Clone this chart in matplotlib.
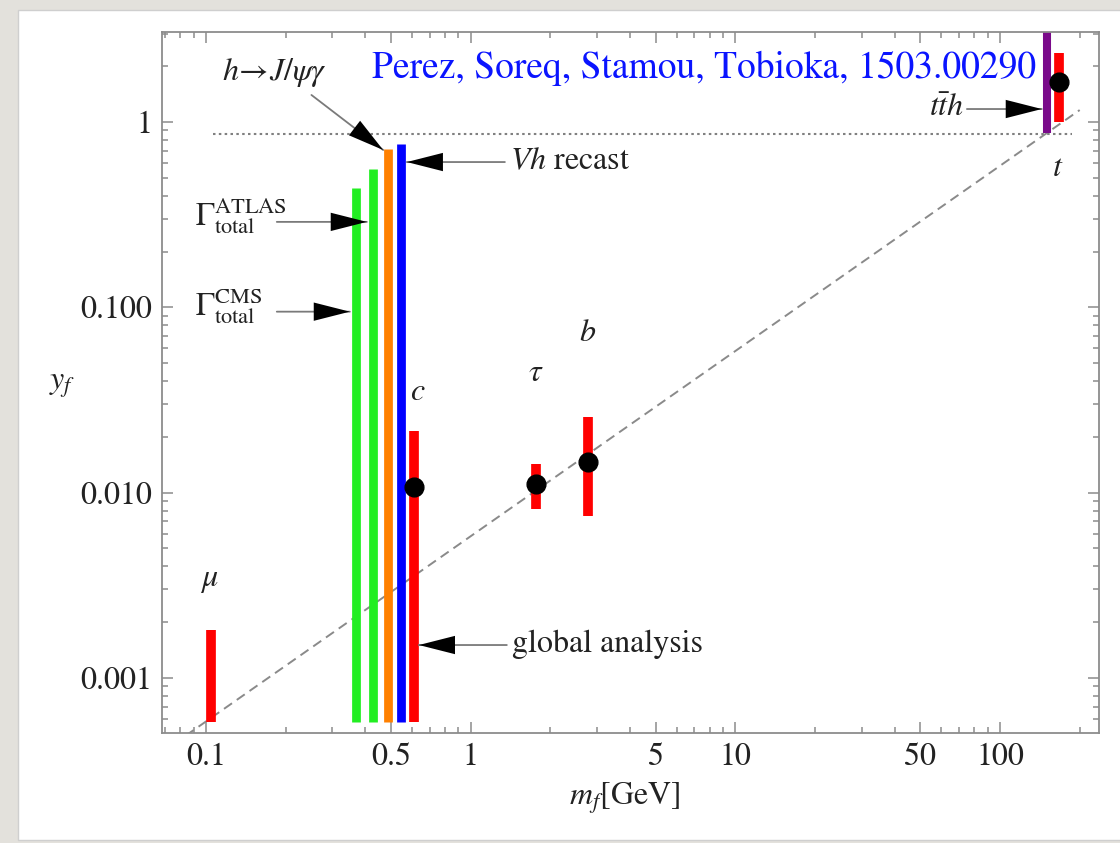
import matplotlib
matplotlib.use("Agg")
import matplotlib.pyplot as plt
from matplotlib.patches import Rectangle
from matplotlib.ticker import FixedLocator, FixedFormatter, NullFormatter

plt.rcParams["font.family"] = ["STIXGeneral", "DejaVu Serif"]
plt.rcParams["mathtext.fontset"] = "stix"

# --- data (masses in GeV, Yukawa couplings y_f) ---
# best-fit points
point_names = ["c", "tau", "b", "t"]
point_m = [0.611, 1.77, 2.78, 167.5]
point_y = [0.0107, 0.0111, 0.0147, 1.65]

# allowed ranges (red bars)
range_names = ["mu", "c", "tau", "b", "t"]
range_m = [0.105, 0.611, 1.77, 2.78, 167.5]
range_lo = [0.00058, 0.00058, 0.00816, 0.0075, 1.0]
range_hi = [0.00181, 0.0216, 0.01426, 0.0257, 2.35]

# upper bounds on the charm Yukawa
bound_names = ["Gamma CMS", "Gamma ATLAS", "h->J/psi gamma", "Vh recast"]
bound_m = [0.369, 0.428, 0.489, 0.548]
bound_lo = [0.00058, 0.00058, 0.00058, 0.00058]
bound_hi = [0.442, 0.558, 0.715, 0.761]
bound_colors = ["#22ee22", "#22ee22", "#ff8000", "#0000ff"]

# ttH bound
tth_m = [150.0]
tth_lo = [0.869]
tth_hi = [3.5]

# SM line y = sqrt(2) m / v (end points) and perturbativity line
sm_m = [0.084, 200.0]
sm_y = [0.000488, 1.16]
dot_m = [0.106, 187.0]
dot_y = [0.861, 0.861]

xticks_major = [0.1, 0.5, 1, 5, 10, 50, 100]
xtick_labels = ["0.1", "0.5", "1", "5", "10", "50", "100"]
yticks_major = [0.001, 0.01, 0.1, 1]
ytick_labels = ["0.001", "0.010", "0.100", "1"]

W, H = 1120, 843
fig = plt.figure(figsize=(W / 100, H / 100), dpi=100, facecolor="#e3e1dc")
fig.patches.append(Rectangle((18 / W, 3 / H), 1.0, 830 / H, transform=fig.transFigure,
                             facecolor="white", edgecolor="#cfcfcf", lw=1, zorder=-10))

ax = fig.add_axes([162 / W, 1 - 733 / H, (1099 - 162) / W, (733 - 32) / H])
ax.set_zorder(5)
ax.set_xscale("log")
ax.set_yscale("log")
ax.set_xlim(0.0683, 236.6)
ax.set_ylim(0.000504, 3.06)

# reference lines
ax.plot(sm_m, sm_y, color="#8a8a8a", lw=1.4, ls=(0, (5, 3)), zorder=1)
ax.plot(dot_m, dot_y, color="#808080", lw=1.5, ls=(0, (1.2, 1.6)), zorder=1)

# bars
bars = ax.vlines(bound_m, bound_lo, bound_hi, colors=bound_colors, lw=6.3, zorder=2)
bars.set_capstyle("butt")
reds = ax.vlines(range_m, range_lo, range_hi, colors="#ff0000", lw=7.0, zorder=2)
reds.set_capstyle("butt")
tth = ax.vlines(tth_m, tth_lo, tth_hi, colors="#7a0a8a", lw=5.8, zorder=2)
tth.set_capstyle("butt")
ax.plot(point_m, point_y, "o", color="black", ms=13.5, zorder=3)

# axes styling (Mathematica-like frame)
fc = "#8c8c8c"
for s in ax.spines.values():
    s.set_color(fc)
    s.set_linewidth(1.3)
ax.xaxis.set_major_locator(FixedLocator(xticks_major))
ax.xaxis.set_major_formatter(FixedFormatter(xtick_labels))
xminor = [v * d for d in (0.01, 0.1, 1, 10, 100) for v in range(1, 10)]
xminor = [v for v in xminor if v not in xticks_major]
ax.xaxis.set_minor_locator(FixedLocator(xminor))
ax.xaxis.set_minor_formatter(NullFormatter())
ax.yaxis.set_major_locator(FixedLocator(yticks_major))
ax.yaxis.set_major_formatter(FixedFormatter(ytick_labels))
yminor = [v * d for d in (0.0001, 0.001, 0.01, 0.1, 1) for v in range(2, 10)]
ax.yaxis.set_minor_locator(FixedLocator(yminor))
ax.yaxis.set_minor_formatter(NullFormatter())
ax.tick_params(which="both", direction="in", top=True, right=True, color=fc, width=1.1,
               labelsize=23, labelcolor="#222222")
ax.tick_params(which="major", length=8)
ax.tick_params(which="minor", length=4)
ax.tick_params(axis="x", pad=7)
ax.tick_params(axis="y", pad=7)

ax.set_xlabel(r"$m_f$[GeV]", fontsize=23, color="#222222")
ax.xaxis.set_label_coords(0.494, -0.068)
ax.set_ylabel(r"$y_f$", fontsize=23, rotation=0, color="#222222", ha="center", va="center")
ax.yaxis.set_label_coords(-0.106, 0.496)

# particle labels
tk = dict(fontsize=23, color="#222222", ha="center", va="center")
ax.text(0.1027, 0.00338, r"$\mu$", **tk)
ax.text(0.632, 0.0349, r"$c$", **tk)
ax.text(1.765, 0.0442, r"$\tau$", **tk)
ax.text(2.77, 0.0727, r"$b$", **tk)
ax.text(165.6, 0.565, r"$t$", **tk)


def pointer(tail, tip):
    ax.annotate("", xy=tip, xytext=tail,
                arrowprops=dict(arrowstyle="-", color="#7a7a7a", lw=1.3, shrinkA=0, shrinkB=0))
    ax.annotate("", xy=tip, xytext=tail,
                arrowprops=dict(arrowstyle="-|>,head_length=1.3,head_width=0.33", color="black",
                                lw=0, shrinkA=0, shrinkB=0, mutation_scale=20))


# annotations
ax.text(0.1824, 1.84, r"$h\!\rightarrow\! J/\psi\gamma$", **tk)
pointer((0.2506, 1.399), (0.4677, 0.706))

ax.text(1.41, 0.608, r"$Vh$ recast", fontsize=23, color="#222222", ha="left", va="center")
pointer((1.348, 0.608), (0.5745, 0.608))

ax.text(0.0909, 0.31, r"$\Gamma^{\mathrm{ATLAS}}_{\mathrm{total}}$", fontsize=23, color="#222222",
        ha="left", va="center")
pointer((0.1854, 0.289), (0.4057, 0.289))

ax.text(0.0909, 0.101, r"$\Gamma^{\mathrm{CMS}}_{\mathrm{total}}$", fontsize=23, color="#222222",
        ha="left", va="center")
pointer((0.1854, 0.0947), (0.35, 0.0947))

ax.text(1.43, 0.00152, "global analysis", fontsize=23, color="#222222", ha="left", va="center")
pointer((1.371, 0.001504), (0.638, 0.001504))

ax.text(73.0, 1.18, r"$t\bar{t}h$", fontsize=23, color="#222222", ha="right", va="center")
pointer((75.0, 1.175), (143.9, 1.175))

# citation
ax.text(0.4236, 1.95, "Perez, Soreq, Stamou, Tobioka, 1503.00290", fontsize=27,
        color="#0a14ff", ha="left", va="center")

fig.savefig("out.png", dpi=100, facecolor=fig.get_facecolor())
